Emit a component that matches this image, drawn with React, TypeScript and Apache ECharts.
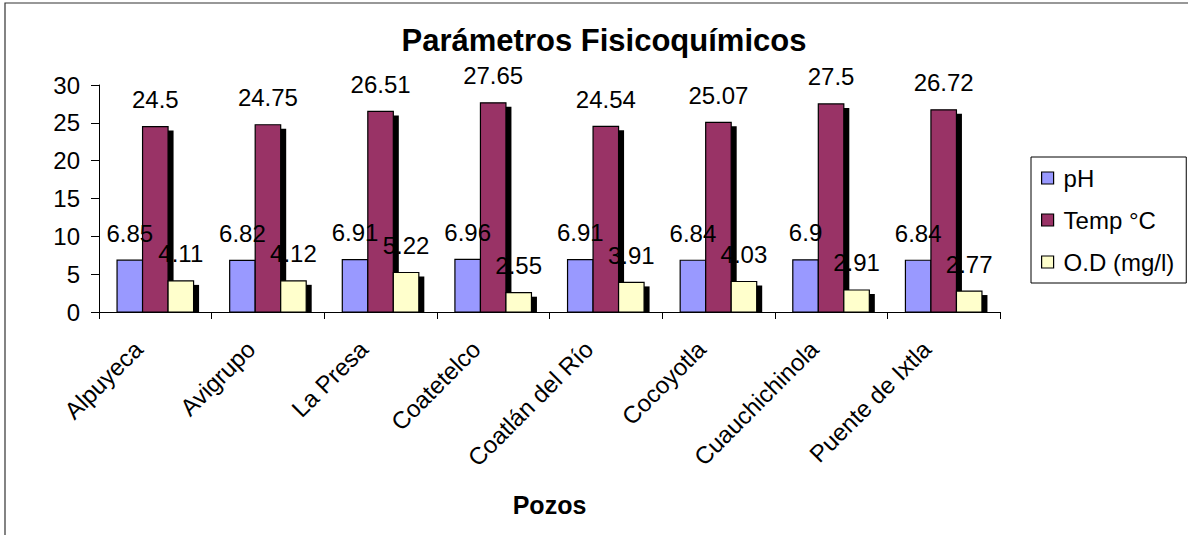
import React, { useEffect, useRef } from "react";
import * as echarts from "echarts";

const categories = ["Alpuyeca", "Avigrupo", "La Presa", "Coatetelco", "Coatlán del Río", "Cocoyotla", "Cuauchichinola", "Puente de Ixtla"];
const phValues = [6.85, 6.82, 6.91, 6.96, 6.91, 6.84, 6.9, 6.84];
const tempValues = [24.5, 24.75, 26.51, 27.65, 24.54, 25.07, 27.5, 26.72];
const odValues = [4.11, 4.12, 5.22, 2.55, 3.91, 4.03, 2.91, 2.77];
const seriesNames = ["pH", "Temp °C", "O.D (mg/l)"];
const seriesColors = ["#9999FF", "#993366", "#FFFFCC"];

const FONT = "'Liberation Sans', Arial, sans-serif";
const BAR_RATIO = 0.2265;
const SHX = 5.5;
const SHY = 4;

function makeSeries(name: string, values: number[], color: string, idx: number) {
  return {
    type: "custom",
    name,
    data: values.map((v, i) => [i, v]),
    encode: { x: 0, y: 1 },
    itemStyle: { color, borderColor: "#000", borderWidth: 1 },
    renderItem: (params: any, api: any) => {
      const ci = api.value(0);
      const v = api.value(1);
      const base = api.coord([ci, 0]);
      const top = api.coord([ci, v]);
      const band = api.size([1, 0])[0];
      const w = band * BAR_RATIO;
      const cx = base[0] + (idx - 1) * w;
      const x = cx - w / 2;
      const h = base[1] - top[1];
      return {
        type: "group",
        children: [
          {
            type: "rect",
            shape: { x: x + SHX, y: top[1] + SHY, width: w, height: Math.max(h - SHY, 0) },
            style: { fill: "#000" },
            z2: 1,
          },
          {
            type: "rect",
            shape: { x, y: top[1], width: w, height: h },
            style: { fill: color, stroke: "#000", lineWidth: 1.2 },
            z2: 5 + idx,
          },
          {
            type: "text",
            x: cx,
            y: top[1] - 15,
            style: {
              text: String(v),
              fill: "#000",
              font: `24px ${FONT}`,
              textAlign: "center",
              textVerticalAlign: "bottom",
              align: "center",
              verticalAlign: "bottom",
            },
            z2: 100,
          },
        ],
      };
    },
  };
}

export default function App() {
  const ref = useRef<HTMLDivElement>(null);
  useEffect(() => {
    if (!ref.current) return;
    const chart = echarts.init(ref.current, null, { renderer: "svg" });
    const valueLists = [phValues, tempValues, odValues];
    chart.setOption({
      animation: false,
      backgroundColor: "#fff",
      textStyle: { fontFamily: FONT, color: "#000" },
      title: {
        text: "Parámetros Fisicoquímicos",
        left: 599,
        top: 20,
        textAlign: "center",
        textStyle: { fontFamily: FONT, fontWeight: "bold", fontSize: 31, color: "#000" },
      },
      graphic: [
        {
          type: "rect",
          shape: { x: 5, y: 3, width: 1200, height: 560 },
          style: { fill: "none", stroke: "#333", lineWidth: 1.2 },
          z: -1,
          silent: true,
        },
      ],
      legend: {
        orient: "vertical",
        left: 1031,
        top: 157,
        data: seriesNames,
        icon: "rect",
        itemWidth: 12,
        itemHeight: 12,
        itemGap: 18,
        padding: [9, 12, 9, 10],
        borderColor: "#000",
        borderWidth: 1,
        itemStyle: { borderColor: "#000", borderWidth: 1.2 },
        textStyle: { fontFamily: FONT, fontSize: 24, color: "#000", padding: [0, 0, 0, 5] },
      },
      grid: { left: 99, right: 188, top: 85, bottom: 223, containLabel: false },
      xAxis: {
        type: "category",
        data: categories,
        boundaryGap: true,
        name: "Pozos",
        nameLocation: "middle",
        nameGap: 180,
        nameTextStyle: { fontFamily: FONT, fontWeight: "bold", fontSize: 25, color: "#000" },
        axisLine: { show: true, lineStyle: { color: "#000", width: 1 } },
        axisTick: { show: true, length: 7, alignWithLabel: false, lineStyle: { color: "#000" } },
        axisLabel: {
          rotate: 45,
          interval: 0,
          margin: 16,
          padding: [0, 24, 0, 0],
          fontFamily: FONT,
          fontSize: 24,
          color: "#000",
        },
        splitLine: { show: false },
      },
      yAxis: {
        type: "value",
        min: 0,
        max: 30,
        interval: 5,
        axisLine: { show: true, lineStyle: { color: "#000", width: 1 } },
        axisTick: { show: true, length: 8, lineStyle: { color: "#000" } },
        axisLabel: { margin: 19, fontFamily: FONT, fontSize: 24, color: "#000" },
        splitLine: { show: false },
      },
      series: seriesNames.map((n, i) => makeSeries(n, valueLists[i], seriesColors[i], i)),
    });
    return () => chart.dispose();
  }, []);
  return (
    <div
      ref={ref}
      style={{ position: "fixed", left: 0, top: 0, width: 1188, height: 535, background: "#fff" }}
    />
  );
}
